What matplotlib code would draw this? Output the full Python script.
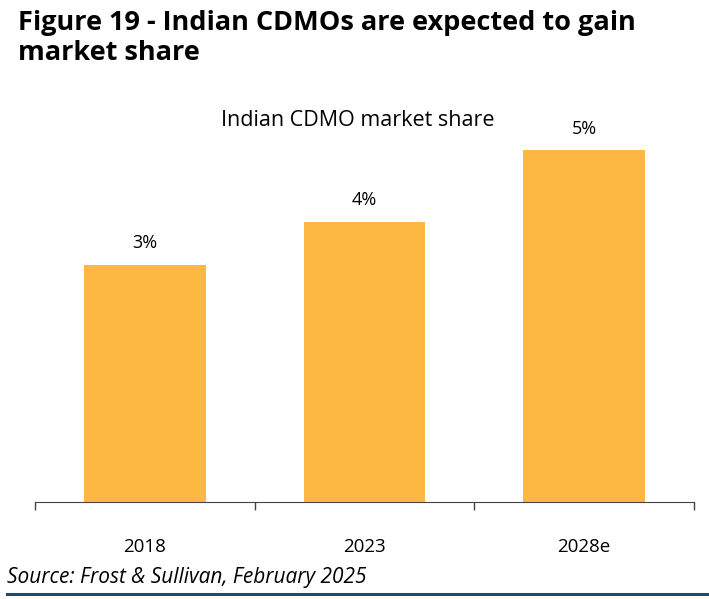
import matplotlib.pyplot as plt
from matplotlib.lines import Line2D
import numpy as np

# data
years = ['2018', '2023', '2028e']
share = [3.03, 3.58, 4.5]          # market share, %
share_labels = ['3%', '4%', '5%']

bar_color = '#FDB844'
rule_color = '#1B4A72'

plt.rcParams['font.family'] = ['Open Sans', 'DejaVu Sans']

fig = plt.figure(figsize=(7.09, 5.99), dpi=100)
W, H = 709, 599

# axes placed so baseline sits at y=502px and spans 35..694px
ax = fig.add_axes([35 / W, (H - 502) / H, (694 - 35) / W, (502 - 100) / H])
x = np.arange(len(years))
ax.bar(x, share, width=0.555, color=bar_color)
ax.set_xlim(-0.5, len(years) - 0.5)
ax.set_ylim(0, 4.5 * 402 / 352)

for xi, v, lab in zip(x, share, share_labels):
    ax.annotate(lab, (xi, v), xytext=(0, 9), textcoords='offset points',
                ha='center', va='bottom', fontsize=13)

for s in ['top', 'right', 'left']:
    ax.spines[s].set_visible(False)
ax.spines['bottom'].set_color('#444444')
ax.set_yticks([])
ax.set_xticks(x)
ax.set_xticklabels(years, fontsize=13.5)
ax.tick_params(axis='x', length=0, pad=26)
# separator ticks between categories
ax.set_xticks(np.arange(-0.5, len(years), 1.0), minor=True)
ax.tick_params(axis='x', which='minor', length=6, color='#444444', width=1)

fig.text(18 / W, 1 - 10 / H, 'Figure 19 - Indian CDMOs are expected to gain\nmarket share',
         fontsize=19.5, fontweight='bold', ha='left', va='top', linespacing=1.2)
fig.text(358 / W, 1 - 120 / H, 'Indian CDMO market share', fontsize=15.5,
         ha='center', va='center')
fig.text(7 / W, 1 - 577 / H, 'Source: Frost & Sullivan, February 2025',
         fontsize=15, style='italic', ha='left', va='center')
fig.add_artist(Line2D([7 / W, 1.0], [1 - 594 / H, 1 - 594 / H],
                      color=rule_color, lw=2.2, transform=fig.transFigure))

fig.savefig('out.png', dpi=100)
